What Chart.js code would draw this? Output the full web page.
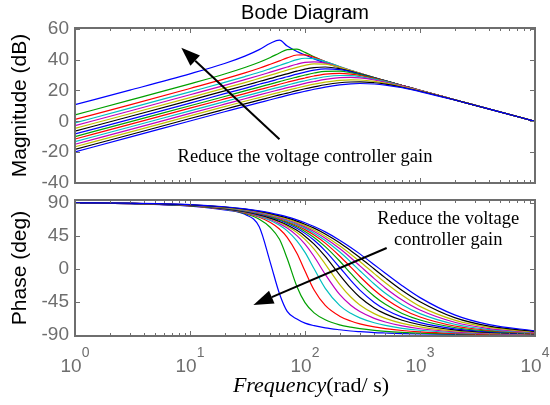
<!DOCTYPE html>
<html>
<head>
<meta charset="utf-8">
<script src="https://cdn.jsdelivr.net/npm/chart.js@4.4.0/dist/chart.umd.min.js"></script>
<style>
  body { margin: 0; background: #fff; }
  #wrap { position: relative; width: 550px; height: 405px; }
  #magBox { position: absolute; left: 0; top: 0; width: 550px; height: 190px; }
  #phaseBox { position: absolute; left: 0; top: 190px; width: 550px; height: 215px; }
</style>
</head>
<body>
<div id="wrap">
  <div id="magBox"><canvas id="magChart" width="550" height="190"></canvas></div>
  <div id="phaseBox"><canvas id="phaseChart" width="550" height="215"></canvas></div>
</div>
<script>
// frequency grid (rad/s), shared by every curve
const freq = [1, 3, 10, 20, 30, 40, 50, 60, 70, 85, 100, 120, 150, 200, 250, 300, 400, 500, 700, 1000, 2000, 4000, 10000];

// magnitude in dB, one row per voltage controller gain (highest gain first)
const magnitude = [
  [10.8, 20.2, 30.8, 37.5, 42.3, 46.5, 50.6, 52.6, 48.8, 45.3, 43.0, 40.5, 37.8, 34.8, 32.6, 30.9, 28.1, 26.1, 23.2, 20.0, 14.0, 8.0, 0],
  [4.2, 13.7, 24.3, 30.7, 34.9, 38.3, 41.4, 44.3, 46.5, 46.8, 44.7, 41.8, 38.6, 35.1, 32.8, 31.0, 28.2, 26.2, 23.2, 20.1, 14.0, 8.0, 0],
  [1.2, 10.7, 21.3, 27.5, 31.4, 34.4, 37.0, 39.2, 41.1, 43.0, 43.1, 41.5, 38.8, 35.3, 32.9, 31.1, 28.3, 26.2, 23.2, 20.1, 14.0, 8.0, 0],
  [-1.0, 8.5, 19.1, 25.2, 29.0, 31.8, 34.2, 36.2, 37.9, 40.0, 40.9, 40.7, 38.7, 35.5, 33.0, 31.2, 28.4, 26.3, 23.2, 20.1, 14.0, 8.0, 0],
  [-2.8, 6.7, 17.2, 23.3, 27.0, 29.7, 31.9, 33.7, 35.2, 37.0, 38.2, 38.6, 37.7, 35.1, 32.9, 31.1, 28.3, 26.3, 23.2, 20.1, 14.0, 8.0, 0],
  [-4.6, 4.9, 15.4, 21.5, 25.1, 27.8, 29.9, 31.7, 33.2, 35.0, 36.3, 37.3, 37.1, 35.0, 32.9, 31.1, 28.4, 26.3, 23.2, 20.1, 14.0, 8.0, 0],
  [-6.4, 3.1, 13.6, 19.7, 23.2, 25.8, 27.8, 29.5, 30.8, 32.5, 33.8, 34.8, 35.2, 34.1, 32.4, 30.8, 28.2, 26.2, 23.2, 20.0, 14.0, 8.0, 0],
  [-8.2, 1.3, 11.8, 17.9, 21.4, 24.0, 25.9, 27.6, 28.9, 30.6, 31.9, 33.2, 34.0, 33.5, 32.1, 30.7, 28.2, 26.2, 23.2, 20.0, 14.0, 8.0, 0],
  [-9.9, -0.4, 10.1, 16.1, 19.7, 22.2, 24.1, 25.7, 27.1, 28.7, 30.0, 31.3, 32.4, 32.5, 31.5, 30.3, 28.0, 26.1, 23.2, 20.0, 14.0, 8.0, 0],
  [-11.5, -2.0, 8.5, 14.5, 18.0, 20.5, 22.4, 24.0, 25.3, 26.9, 28.1, 29.4, 30.6, 31.1, 30.6, 29.7, 27.7, 25.9, 23.1, 20.0, 14.0, 8.0, 0],
  [-13.2, -3.7, 6.8, 12.8, 16.3, 18.8, 20.7, 22.2, 23.5, 25.1, 26.3, 27.6, 28.9, 29.7, 29.6, 29.0, 27.3, 25.7, 22.9, 19.9, 14.0, 8.0, 0],
  [-14.9, -5.4, 5.1, 11.1, 14.6, 17.1, 19.0, 20.5, 21.8, 23.3, 24.6, 25.8, 27.2, 28.3, 28.5, 28.1, 26.8, 25.3, 22.8, 19.9, 14.0, 8.0, 0],
  [-16.5, -7.0, 3.5, 9.5, 13.0, 15.4, 17.3, 18.8, 20.1, 21.6, 22.8, 24.1, 25.4, 26.6, 26.9, 26.8, 25.9, 24.7, 22.5, 19.7, 13.9, 7.9, 0],
  [-18.2, -8.7, 1.8, 7.8, 11.3, 13.7, 15.6, 17.1, 18.3, 19.9, 21.1, 22.3, 23.7, 25.0, 25.5, 25.6, 25.0, 24.1, 22.1, 19.5, 13.9, 7.9, 0],
  [-19.8, -10.3, 0.2, 6.2, 9.7, 12.1, 14.0, 15.5, 16.8, 18.3, 19.5, 20.8, 22.2, 23.6, 24.3, 24.5, 24.2, 23.5, 21.8, 19.3, 13.8, 7.9, 0]
];

// phase in degrees, same order
const phase = [
  [89.5, 88.6, 85.3, 80.0, 74.0, 57.0, 8.0, -34.0, -58.0, -68.5, -74.0, -77.5, -80.4, -83.0, -84.7, -85.6, -86.8, -87.4, -88.2, -88.7, -89.4, -89.7, -90.0],
  [89.6, 88.7, 85.7, 80.9, 75.1, 67.3, 56.1, 40.0, 13.9, -24.1, -46.2, -60.1, -69.5, -76.3, -79.5, -81.5, -83.8, -85.1, -86.5, -87.6, -88.8, -89.4, -89.8],
  [89.6, 88.7, 85.6, 81.0, 76.0, 70.1, 63.0, 54.1, 42.8, 21.1, -3.1, -28.9, -49.9, -64.5, -71.1, -74.9, -79.1, -81.4, -84.0, -85.8, -87.9, -89.0, -89.6],
  [89.6, 88.7, 85.7, 81.2, 76.5, 71.3, 65.6, 59.0, 51.5, 38.0, 22.2, 0.0, -26.6, -49.8, -60.7, -66.8, -73.5, -77.1, -81.0, -83.7, -86.9, -88.4, -89.4],
  [89.6, 88.7, 85.7, 81.4, 76.9, 72.1, 66.9, 61.4, 55.3, 45.0, 33.4, 16.6, -7.6, -35.0, -49.7, -58.2, -67.5, -72.5, -77.8, -81.6, -85.8, -87.9, -89.2],
  [89.6, 88.8, 85.8, 81.6, 77.3, 72.8, 68.1, 63.2, 57.9, 49.4, 40.0, 26.7, 6.4, -21.2, -38.5, -49.2, -61.1, -67.5, -74.4, -79.2, -84.7, -87.3, -88.9],
  [89.6, 88.8, 85.9, 81.8, 77.6, 73.3, 68.9, 64.3, 59.6, 52.2, 44.3, 33.4, 16.7, -8.3, -26.4, -38.7, -53.3, -61.4, -70.1, -76.2, -83.2, -86.6, -88.6],
  [89.6, 88.8, 86.1, 82.2, 78.2, 74.2, 70.0, 65.9, 61.6, 55.0, 48.1, 38.7, 24.4, 2.0, -15.9, -29.1, -45.8, -55.4, -65.9, -73.3, -81.7, -85.9, -88.4],
  [89.6, 88.9, 86.2, 82.4, 78.6, 74.8, 70.9, 67.0, 63.0, 57.0, 50.8, 42.6, 30.1, 10.5, -6.3, -19.5, -37.4, -48.4, -60.8, -69.7, -79.9, -85.0, -88.0],
  [89.6, 88.9, 86.4, 82.7, 79.1, 75.4, 71.7, 68.0, 64.3, 58.8, 53.2, 45.8, 34.8, 17.4, 2.2, -10.5, -28.9, -40.9, -55.0, -65.6, -77.9, -83.9, -87.6],
  [89.6, 89.0, 86.5, 83.0, 79.5, 76.0, 72.5, 69.0, 65.5, 60.4, 55.2, 48.4, 38.5, 23.0, 9.2, -2.7, -20.8, -33.4, -48.9, -61.1, -75.5, -82.7, -87.1],
  [89.7, 89.0, 86.6, 83.3, 79.9, 76.6, 73.2, 69.9, 66.6, 61.7, 56.9, 50.6, 41.5, 27.4, 14.9, 3.9, -13.5, -26.1, -42.6, -56.2, -72.8, -81.4, -86.6],
  [89.7, 89.0, 86.8, 83.6, 80.4, 77.2, 74.0, 70.9, 67.8, 63.1, 58.6, 52.7, 44.3, 31.3, 19.8, 9.8, -6.6, -19.1, -36.1, -51.2, -69.9, -79.8, -85.9],
  [89.7, 89.1, 87.0, 84.0, 81.0, 78.0, 75.0, 72.0, 69.1, 64.8, 60.6, 55.2, 47.3, 35.3, 24.6, 15.3, -0.3, -12.4, -29.5, -44.8, -66.5, -78.1, -85.2],
  [89.7, 89.2, 87.2, 84.3, 81.5, 78.7, 76.0, 73.2, 70.5, 66.4, 62.5, 57.4, 50.1, 38.9, 29.0, 20.2, 5.5, -6.1, -23.1, -39.3, -62.8, -76.1, -84.4]
];

// matlab style colour cycle
const lineColors = ['#0000ff', '#00a000', '#ff0000', '#00bfbf', '#bf00bf', '#bfbf00', '#000000'];

// tick labels
const magTicks = [60, 40, 20, 0, -20, -40];
const phaseTicks = [90, 45, 0, -45, -90];
const decades = [0, 1, 2, 3, 4];

const axisGray = '#6e6e6e';
const sansFont = '"Liberation Sans", Arial, sans-serif';
const serifFont = '"Liberation Serif", "Times New Roman", serif';

// build one dataset per gain, later curves drawn on top
function makeDatasets(rows) {
  return rows.map((row, i) => ({
    data: freq.map((f, j) => ({ x: f, y: row[j] })),
    borderColor: lineColors[i % lineColors.length],
    borderWidth: 1.2,
    pointRadius: 0,
    fill: false,
    cubicInterpolationMode: 'monotone',
    order: rows.length - i
  }));
}

// arrow with filled head
function drawArrow(ctx, x1, y1, x2, y2, head, half) {
  const ang = Math.atan2(y2 - y1, x2 - x1);
  const bx = x2 - head * Math.cos(ang);
  const by = y2 - head * Math.sin(ang);
  ctx.strokeStyle = '#000';
  ctx.fillStyle = '#000';
  ctx.lineWidth = 2;
  ctx.beginPath();
  ctx.moveTo(x1, y1);
  ctx.lineTo(bx, by);
  ctx.stroke();
  ctx.beginPath();
  ctx.moveTo(x2, y2);
  ctx.lineTo(bx + half * Math.sin(ang), by - half * Math.cos(ang));
  ctx.lineTo(bx - half * Math.sin(ang), by + half * Math.cos(ang));
  ctx.closePath();
  ctx.fill();
}

// matlab like box: frame, inward ticks, tick labels
function boxPlugin(yTicks, yTitle, extra) {
  return {
    id: 'matlabBox',
    afterDatasetsDraw(chart) {
      const ctx = chart.ctx;
      const a = chart.chartArea;
      const xs = chart.scales.x;
      const ys = chart.scales.y;
      ctx.save();

      // minor / major ticks on top and bottom
      ctx.strokeStyle = axisGray;
      ctx.lineWidth = 1;
      ctx.beginPath();
      decades.forEach(d => {
        for (let k = 1; k < 10; k++) {
          const v = k * Math.pow(10, d);
          if (v > 10000) break;
          const px = Math.round(xs.getPixelForValue(v)) + 0.5;
          const len = k === 1 ? 5 : 3;
          ctx.moveTo(px, a.top); ctx.lineTo(px, a.top + len);
          ctx.moveTo(px, a.bottom); ctx.lineTo(px, a.bottom - len);
        }
      });
      yTicks.forEach(t => {
        const py = Math.round(ys.getPixelForValue(t)) + 0.5;
        ctx.moveTo(a.left, py); ctx.lineTo(a.left + 5, py);
        ctx.moveTo(a.right, py); ctx.lineTo(a.right - 5, py);
      });
      ctx.stroke();

      ctx.lineWidth = 2;
      ctx.strokeRect(a.left, a.top, a.right - a.left, a.bottom - a.top);

      // y tick labels
      ctx.fillStyle = axisGray;
      ctx.font = '19px ' + sansFont;
      ctx.textAlign = 'right';
      ctx.textBaseline = 'middle';
      yTicks.forEach(t => ctx.fillText(String(t), a.left - 6, ys.getPixelForValue(t)));

      // y axis title
      ctx.fillStyle = '#000';
      ctx.font = '21px ' + sansFont;
      ctx.textAlign = 'center';
      ctx.save();
      ctx.translate(20, (a.top + a.bottom) / 2);
      ctx.rotate(-Math.PI / 2);
      ctx.fillText(yTitle, 0, 0);
      ctx.restore();

      extra(chart, ctx, a, xs, ys);
      ctx.restore();
    }
  };
}

const magChart = new Chart(document.getElementById('magChart'), {
  type: 'line',
  data: { datasets: makeDatasets(magnitude) },
  options: {
    responsive: false,
    animation: false,
    layout: { padding: { left: 75, right: 15, top: 28, bottom: 7 } },
    plugins: { legend: { display: false }, tooltip: { enabled: false } },
    scales: {
      x: { type: 'logarithmic', min: 1, max: 10000, display: false },
      y: { min: -40, max: 60.5, display: false }
    }
  },
  plugins: [boxPlugin(magTicks, 'Magnitude (dB)', (chart, ctx, a, xs, ys) => {
    ctx.fillStyle = '#000';
    ctx.font = '20px ' + sansFont;
    ctx.textAlign = 'center';
    ctx.textBaseline = 'middle';
    ctx.fillText('Bode Diagram', (a.left + a.right) / 2, 13);

    ctx.font = '18.5px ' + serifFont;
    ctx.fillText('Reduce the voltage controller gain', xs.getPixelForValue(100), ys.getPixelForValue(-23));

    drawArrow(ctx, xs.getPixelForValue(60), ys.getPixelForValue(-11.6),
      xs.getPixelForValue(8.4), ys.getPixelForValue(47.7), 19, 7);
  })]
});

const phaseChart = new Chart(document.getElementById('phaseChart'), {
  type: 'line',
  data: { datasets: makeDatasets(phase) },
  options: {
    responsive: false,
    animation: false,
    layout: { padding: { left: 75, right: 15, top: 10, bottom: 69 } },
    plugins: { legend: { display: false }, tooltip: { enabled: false } },
    scales: {
      x: { type: 'logarithmic', min: 1, max: 10000, display: false },
      y: { min: -91.5, max: 93.5, display: false }
    }
  },
  plugins: [boxPlugin(phaseTicks, 'Phase (deg)', (chart, ctx, a, xs, ys) => {
    // x tick labels as 10 with a raised exponent
    ctx.fillStyle = axisGray;
    ctx.textBaseline = 'middle';
    ctx.textAlign = 'left';
    decades.forEach(d => {
      const px = xs.getPixelForValue(Math.pow(10, d));
      ctx.font = '19px ' + sansFont;
      const wBase = ctx.measureText('10').width;
      ctx.font = '14px ' + sansFont;
      const wExp = ctx.measureText(String(d)).width;
      const start = px - (wBase + wExp) / 2;
      ctx.font = '19px ' + sansFont;
      ctx.fillText('10', start, a.bottom + 31);
      ctx.font = '14px ' + sansFont;
      ctx.fillText(String(d), start + wBase, a.bottom + 17);
    });

    // x axis title: italic Frequency + (rad/ s)
    ctx.fillStyle = '#000';
    ctx.font = 'italic 22px ' + serifFont;
    const w1 = ctx.measureText('Frequency').width;
    ctx.font = '22px ' + serifFont;
    const w2 = ctx.measureText('(rad/ s)').width;
    const x0 = (a.left + a.right) / 2 + 6 - (w1 + w2) / 2;
    ctx.font = 'italic 22px ' + serifFont;
    ctx.fillText('Frequency', x0, a.bottom + 50);
    ctx.font = '22px ' + serifFont;
    ctx.fillText('(rad/ s)', x0 + w1, a.bottom + 50);

    // annotation
    ctx.textAlign = 'center';
    ctx.font = '18.5px ' + serifFont;
    ctx.fillText('Reduce the voltage', xs.getPixelForValue(1760), ys.getPixelForValue(67.6));
    ctx.fillText('controller gain', xs.getPixelForValue(1760), ys.getPixelForValue(39));

    drawArrow(ctx, xs.getPixelForValue(513), ys.getPixelForValue(28.2),
      xs.getPixelForValue(35.6), ys.getPixelForValue(-49.4), 20, 7);
  })]
});
</script>
</body>
</html>
